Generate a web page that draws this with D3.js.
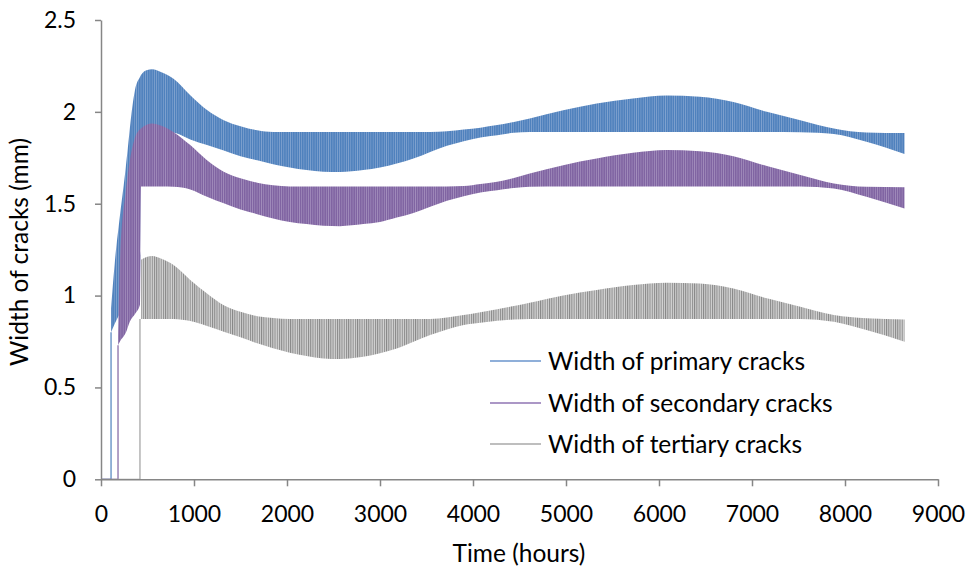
<!DOCTYPE html>
<html>
<head>
<meta charset="utf-8">
<script src="https://cdn.jsdelivr.net/npm/d3@7"></script>
<style>
  html, body { margin: 0; padding: 0; background: #fff; }
  svg { display: block; font-family: Lato, "Open Sans", sans-serif; }
</style>
</head>
<body>
<script>
// ---------- data ----------
const xTickValues = [0, 1000, 2000, 3000, 4000, 5000, 6000, 7000, 8000, 9000];
const yTickValues = [0, 0.5, 1, 1.5, 2, 2.5];
const yTickLabels = ["0", "0.5", "1", "1.5", "2", "2.5"];
const seriesNames = ["Width of primary cracks", "Width of secondary cracks", "Width of tertiary cracks"];
const cycleHours = 24; // one oscillation per day (estimated from the stripe density)

// start time (hours) of each series: it is zero before this time
const startTimes = [108, 183, 419];

// start-up ramp (hours) and the low / high envelope of the oscillation
const primaryRampT  = [108, 150, 200, 258, 294, 330, 366, 419];
const primaryRampLo = [0.80, 0.85, 0.90, 0.95, 0.98, 1.00, 1.03, 1.05];
const primaryRampHi = [0.93, 1.19, 1.42, 1.66, 1.83, 2.00, 2.12, 2.19];

const secondaryRampT  = [183, 204, 269, 312, 366, 419];
const secondaryRampLo = [0.73, 0.75, 0.80, 0.86, 0.90, 0.95];
const secondaryRampHi = [0.78, 1.19, 1.58, 1.74, 1.86, 1.905];

const tertiaryRampT  = [];
const tertiaryRampLo = [];
const tertiaryRampHi = [];

// main period (hours), shared by the three series
const timeHours = [430, 490, 550, 650, 780, 960, 1140, 1320, 1500, 1680, 1850, 2030, 2210, 2390, 2570,
  2820, 3000, 3180, 3360, 3540, 3720, 3900, 4080, 4260, 4440, 4610, 4970, 5330, 5720, 6080,
  6440, 6800, 7160, 7520, 7880, 8230, 8640];

const primaryHi = [2.20, 2.227, 2.232, 2.215, 2.18, 2.09, 2.01, 1.955, 1.922, 1.90, 1.891, 1.891, 1.891, 1.891, 1.891,
  1.891, 1.891, 1.891, 1.891, 1.891, 1.895, 1.904, 1.914, 1.928, 1.945, 1.964, 2.009, 2.046, 2.073, 2.089,
  2.082, 2.054, 2.00, 1.955, 1.91, 1.888, 1.885];
const primaryLo = [1.89, 1.89, 1.889, 1.888, 1.886, 1.85, 1.819, 1.79, 1.759, 1.737, 1.715, 1.697, 1.683, 1.674, 1.672,
  1.683, 1.697, 1.719, 1.746, 1.782, 1.815, 1.84, 1.861, 1.873, 1.886, 1.891, 1.891, 1.891, 1.891, 1.891,
  1.891, 1.891, 1.891, 1.889, 1.879, 1.837, 1.77];

const secondaryHi = [1.91, 1.93, 1.937, 1.925, 1.891, 1.819, 1.737, 1.674, 1.638, 1.614, 1.60, 1.594, 1.594, 1.594, 1.594,
  1.594, 1.594, 1.594, 1.594, 1.594, 1.594, 1.596, 1.607, 1.619, 1.64, 1.665, 1.71, 1.746, 1.777, 1.792,
  1.786, 1.759, 1.705, 1.656, 1.61, 1.592, 1.59];
const secondaryLo = [1.594, 1.594, 1.594, 1.594, 1.592, 1.578, 1.538, 1.502, 1.469, 1.443, 1.42, 1.401, 1.389, 1.38, 1.378,
  1.389, 1.401, 1.425, 1.45, 1.483, 1.516, 1.541, 1.561, 1.574, 1.585, 1.592, 1.594, 1.594, 1.594, 1.594,
  1.594, 1.594, 1.594, 1.594, 1.583, 1.538, 1.474];

const tertiaryHi = [1.195, 1.21, 1.215, 1.20, 1.166, 1.085, 1.012, 0.948, 0.912, 0.888, 0.878, 0.873, 0.873, 0.873, 0.873,
  0.873, 0.873, 0.873, 0.873, 0.873, 0.881, 0.894, 0.909, 0.925, 0.943, 0.961, 1.001, 1.03, 1.057, 1.07,
  1.066, 1.039, 0.985, 0.939, 0.894, 0.876, 0.87];
const tertiaryLo = [0.873, 0.873, 0.873, 0.873, 0.873, 0.861, 0.834, 0.803, 0.773, 0.740, 0.713, 0.689, 0.671, 0.658, 0.655,
  0.667, 0.686, 0.712, 0.749, 0.785, 0.816, 0.84, 0.852, 0.863, 0.87, 0.873, 0.873, 0.873, 0.873, 0.873,
  0.873, 0.873, 0.873, 0.873, 0.857, 0.812, 0.749];

// ---------- build ----------
const W = 969, H = 575;
const svg = d3.select("body").append("svg").attr("width", W).attr("height", H);

const x = d3.scaleLinear().domain([0, 9000]).range([101, 938]);
const y = d3.scaleLinear().domain([0, 2.5]).range([479.3, 20]);

const styles = [
  { base: "#4f81bd", stripe: "#b7c9e4", stripeW: 0.35, legend: "#6a95cc" },
  { base: "#8064a2", stripe: "#c9bbdb", stripeW: 0.35, legend: "#8f74b3" },
  { base: "#d3d3d3", stripe: "#888888", stripeW: 1.0, legend: "#a9a9a9" }
];

function join(rt, rlo, rhi, lo, hi) {
  const a = rt.map((t, i) => ({ t, lo: rlo[i], hi: rhi[i] }));
  const b = timeHours.map((t, i) => ({ t, lo: lo[i], hi: hi[i] }));
  return a.concat(b);
}
const seriesData = [
  join(primaryRampT, primaryRampLo, primaryRampHi, primaryLo, primaryHi),
  join(secondaryRampT, secondaryRampLo, secondaryRampHi, secondaryLo, secondaryHi),
  join(tertiaryRampT, tertiaryRampLo, tertiaryRampHi, tertiaryLo, tertiaryHi)
];

// stripe patterns: one stripe per daily cycle
const P = x(cycleHours) - x(0);
const defs = svg.append("defs");
styles.forEach((s, i) => {
  const p = defs.append("pattern").attr("id", "pat" + i)
    .attr("patternUnits", "userSpaceOnUse").attr("width", P).attr("height", H);
  p.append("rect").attr("width", P).attr("height", H).attr("fill", s.base);
  p.append("rect").attr("x", 0).attr("width", s.stripeW).attr("height", H).attr("fill", s.stripe);
});

const area = d3.area()
  .x(d => x(d.t)).y0(d => y(d.lo)).y1(d => y(d.hi))
  .curve(d3.curveMonotoneX);
const line = d3.line().x(d => x(d[0])).y(d => y(d[1]));

const plot = svg.append("g");
seriesData.forEach((data, i) => {
  const s = styles[i];
  // zero until start, then the jump up
  plot.append("path")
    .attr("d", line([[0, 0], [startTimes[i], 0], [startTimes[i], data[0].lo]]))
    .attr("fill", "none").attr("stroke", i === 2 ? "#a0a0a0" : s.base).attr("stroke-width", 1.2);
  plot.append("path").attr("d", area(data)).attr("fill", "url(#pat" + i + ")");
});

// ---------- axes ----------
const axisColor = "#868686";
const xAxis = svg.append("g").attr("transform", `translate(0,${y(0)})`)
  .call(d3.axisBottom(x).tickValues(xTickValues).tickSize(7).tickSizeOuter(0).tickPadding(19).tickFormat(d3.format("d")));
const yAxis = svg.append("g").attr("transform", `translate(${x(0)},0)`)
  .call(d3.axisLeft(y).tickValues(yTickValues).tickSize(6).tickSizeOuter(0).tickPadding(19)
    .tickFormat((d, i) => yTickLabels[i]));
[xAxis, yAxis].forEach(g => {
  g.select(".domain").attr("stroke", axisColor).attr("stroke-width", 1.5);
  g.selectAll(".tick line").attr("stroke", axisColor).attr("stroke-width", 1.5);
  g.selectAll(".tick text").attr("fill", "#000").attr("font-size", 23).attr("font-family", "Lato, 'Open Sans', sans-serif");
});

svg.append("text").attr("x", 519).attr("y", 562).attr("text-anchor", "middle")
  .attr("font-size", 24.5).attr("fill", "#000").text("Time (hours)");
svg.append("text").attr("transform", "translate(28,252) rotate(-90)").attr("text-anchor", "middle")
  .attr("font-size", 24.5).attr("fill", "#000").text("Width of cracks (mm)");

// ---------- legend ----------
const legendY = [361, 403, 444];
const lg = svg.append("g");
seriesNames.forEach((n, i) => {
  lg.append("line").attr("x1", 490).attr("x2", 541).attr("y1", legendY[i]).attr("y2", legendY[i])
    .attr("stroke", styles[i].legend).attr("stroke-width", 1.3);
  lg.append("text").attr("x", 548).attr("y", legendY[i]).attr("dy", "0.35em")
    .attr("font-size", 24.5).attr("fill", "#000").text(n);
});
</script>
</body>
</html>
